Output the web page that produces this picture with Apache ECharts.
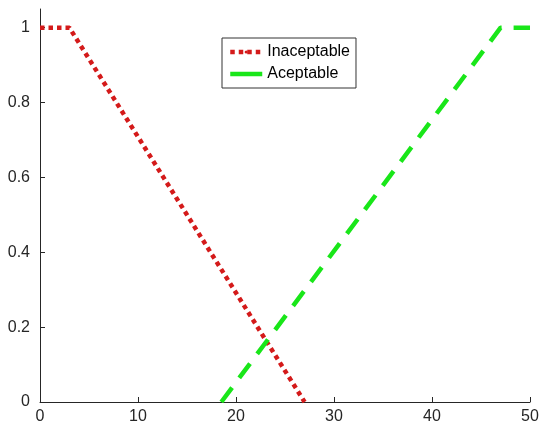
<!DOCTYPE html>
<html>
<head>
<meta charset="UTF-8">
<title>Inaceptable / Aceptable</title>
<script src="https://cdn.jsdelivr.net/npm/echarts@6/dist/echarts.min.js"></script>
<style>
  html, body { margin: 0; padding: 0; background: #fff; }
  #main { width: 545px; height: 430px; }
</style>
</head>
<body>
<div id="main"></div>
<script>
// membership functions (x, grade)
var inaceptable = [[0, 1], [3, 1], [27, 0]];
var aceptable = [[18.5, 0], [47, 1], [50, 1]];
var xTicks = [0, 10, 20, 30, 40, 50];
var yTicks = [0, 0.2, 0.4, 0.6, 0.8, 1];

var axisCol = '#262626';
var redCol = '#d41a1a';
var greenCol = '#19e619';
var chart = echarts.init(document.getElementById('main'));

var option = {
  animation: false,
  backgroundColor: '#fff',
  textStyle: { fontFamily: 'Liberation Sans, Arial, sans-serif' },
  grid: { left: 40, right: 15, top: 9, bottom: 28 },
  legend: {
    left: 222, top: 38,
    orient: 'vertical',
    itemWidth: 32, itemHeight: 4, itemGap: 6,
    padding: [6, 6, 6, 6],
    borderColor: '#333', borderWidth: 1,
    backgroundColor: '#fff',
    textStyle: { fontSize: 16, color: '#000', fontFamily: 'Liberation Sans, Arial, sans-serif' },
    data: [
      { name: 'Inaceptable', lineStyle: { width: 4.5, type: [4.5, 4], color: redCol } },
      { name: 'Aceptable', lineStyle: { width: 4.5, type: 'solid', color: greenCol } }
    ]
  },
  xAxis: {
    type: 'value', min: 0, max: 50, interval: 10,
    axisLine: { show: true, lineStyle: { color: axisCol, width: 1 } },
    axisTick: { show: true, inside: true, length: 5, lineStyle: { color: axisCol } },
    axisLabel: { color: axisCol, fontSize: 16, margin: 7,
      formatter: function (v) { return xTicks.indexOf(v) >= 0 ? String(v) : ''; } },
    splitLine: { show: false }
  },
  yAxis: {
    type: 'value', min: 0, max: 1.05, interval: 0.2,
    axisLine: { show: true, lineStyle: { color: axisCol, width: 1 } },
    axisTick: { show: true, inside: true, length: 5, lineStyle: { color: axisCol } },
    axisLabel: { color: axisCol, fontSize: 16, margin: 10, showMaxLabel: false,
      formatter: function (v) {
        var r = Math.round(v * 10) / 10;
        return yTicks.indexOf(r) >= 0 && Math.abs(r - v) < 1e-6 ? String(r) : '';
      } },
    splitLine: { show: false }
  },
  series: [
    {
      name: 'Inaceptable', type: 'line', data: inaceptable,
      symbol: 'none', color: redCol,
      lineStyle: { color: redCol, width: 4.5, type: [4.5, 4], cap: 'butt' }
    },
    {
      name: 'Aceptable', type: 'line', data: aceptable,
      symbol: 'none', color: greenCol,
      lineStyle: { color: greenCol, width: 4.5, type: [18, 12], cap: 'butt' }
    }
  ]
};
chart.setOption(option);
</script>
</body>
</html>
